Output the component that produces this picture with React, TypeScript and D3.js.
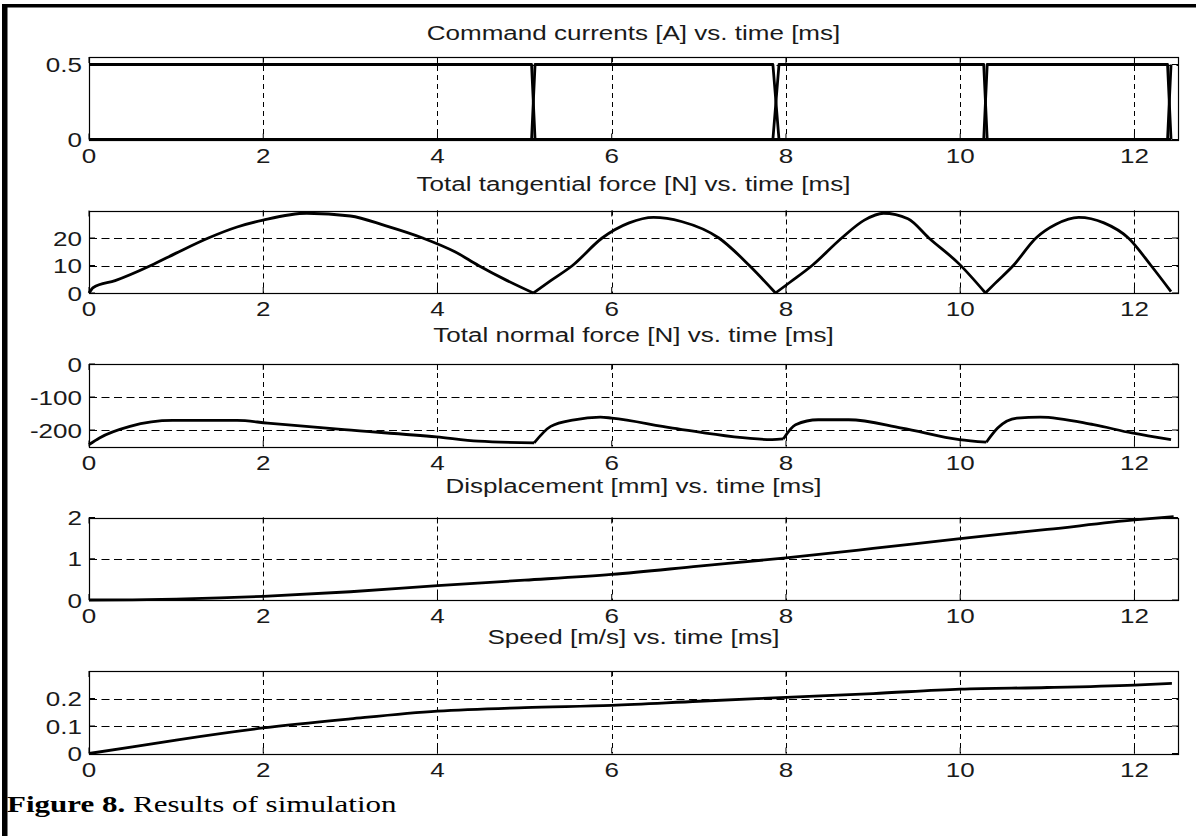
import * as d3 from 'd3'

const X_DOMAIN: [number, number] = [0, 12.5]
const X_TICKS = [0, 2, 4, 6, 8, 10, 12]
const X_TICK_LABELS = ['0', '2', '4', '6', '8', '10', '12']

// command currents of the three phases [A]
const currentTime = [0, 5.08, 5.12, 7.85, 7.92, 10.27, 10.31, 12.38, 12.42]
const currentA = [0.5, 0.5, 0, 0, 0, 0, 0.5, 0.5, 0]
const currentB = [0, 0, 0.5, 0.5, 0, 0, 0, 0, 0.5]
const currentC = [0, 0, 0, 0, 0.5, 0.5, 0, 0, 0]

// total tangential force [N]
const tanTime = [0, 0.05, 0.3, 0.71, 1.0, 1.37, 1.7, 2.0, 2.5, 3.0, 3.4, 3.83, 4.2, 4.47, 4.8, 5.1,
  5.3, 5.55, 5.89, 6.2, 6.48, 6.8, 7.23, 7.58, 7.88,
  8.05, 8.3, 8.64, 8.9, 9.12, 9.4, 9.64, 9.99, 10.29,
  10.4, 10.61, 10.87, 11.1, 11.36, 11.65, 11.93, 12.19, 12.42]
const tanForce = [0, 2, 4.5, 10, 14.5, 20, 24, 26.5, 29, 28, 24.5, 20, 15, 10, 4.5, 0,
  4.5, 10, 20, 25.5, 27.5, 26, 20, 10, 0,
  4, 10, 20, 26.5, 29, 27, 20, 10.5, 0,
  3.5, 10, 20, 25, 27.5, 25.5, 20, 10, 0.5]
const tanBreaks = [5.1, 7.88, 10.29]

// total normal force [N]
const normTime = [0, 0.12, 0.47, 0.96, 1.7, 2.05, 2.93, 3.99, 4.47, 5.11,
  5.3, 5.57, 5.87, 6.0, 6.7, 7.84, 7.97,
  8.11, 8.37, 8.72, 9.33, 9.99, 10.3,
  10.43, 10.65, 10.92, 11.53, 11.97, 12.42]
const normForce = [-244, -224, -189, -171, -171, -179, -199, -221, -234, -239,
  -189, -169, -161, -164, -194, -229, -227,
  -184, -169, -169, -194, -229, -237,
  -194, -164, -161, -184, -209, -229]
const normBreaks = [5.11, 7.97, 10.3]

// displacement [mm]
const dispTime = [0, 0.5, 1, 1.5, 2, 3, 4, 5, 6, 7, 8, 9, 10, 11, 12, 12.45]
const displacement = [0, 0.005, 0.02, 0.05, 0.09, 0.2, 0.35, 0.48, 0.62, 0.82, 1.02, 1.25, 1.49, 1.71, 1.94, 2.02]

// speed [m/s]
const speedTime = [0, 0.5, 1, 2, 3, 4, 5, 6, 7, 8, 9, 10, 11, 12, 12.43]
const speed = [0, 0.024, 0.049, 0.093, 0.126, 0.154, 0.167, 0.175, 0.19, 0.204, 0.218, 0.234, 0.24, 0.249, 0.255]

const TITLES = [
  'Command currents [A] vs. time [ms]',
  'Total tangential force [N] vs. time [ms]',
  'Total normal force [N] vs. time [ms]',
  'Displacement [mm] vs. time [ms]',
  'Speed [m/s] vs. time [ms]',
]
const Y_DOMAINS: [number, number][] = [[0, 0.55], [0, 30], [-250, 0], [0, 2], [0, 0.3]]
const Y_TICKS = [[0, 0.5], [0, 10, 20], [-200, -100, 0], [0, 1, 2], [0, 0.1, 0.2]]
const Y_TICK_LABELS = [['0', '0.5'], ['0', '10', '20'], ['-200', '-100', '0'], ['0', '1', '2'], ['0', '0.1', '0.2']]

const W = 1196
const H = 836
const LEFT = 89
const RIGHT = 1178
const TOP0 = 57
const STEP = 153.5
const PH = 82.5
const FONT = '"Liberation Sans", Arial, Helvetica, sans-serif'
const FS = 21
const SX = 1.24
const INK = '#1a1a1a'

type Pt = [number, number]

function zip(t: number[], v: number[]): Pt[] {
  return t.map((d, i) => [d, v[i]])
}

// split a series into pieces at the given instants (cusps stay sharp)
function splitAt(pts: Pt[], breaks: number[]): Pt[][] {
  const out: Pt[][] = []
  let cur: Pt[] = []
  pts.forEach(p => {
    cur.push(p)
    if (breaks.includes(p[0])) {
      out.push(cur)
      cur = [p]
    }
  })
  if (cur.length > 1) out.push(cur)
  return out
}

function SText({ x, y, anchor = 'start', size = FS, sx = SX, children }: any) {
  return (
    <text
      transform={`translate(${x},${y}) scale(${sx},1)`}
      textAnchor={anchor}
      fontFamily={FONT}
      fontSize={size}
      fill={INK}
    >
      {children}
    </text>
  )
}

export default function App() {
  const x = d3.scaleLinear().domain(X_DOMAIN).range([LEFT, RIGHT])

  const series: { pts: Pt[][]; curve: d3.CurveFactory }[][] = [
    [currentA, currentB, currentC].map(c => ({ pts: [zip(currentTime, c)], curve: d3.curveLinear })),
    [{ pts: splitAt(zip(tanTime, tanForce), tanBreaks), curve: d3.curveMonotoneX }],
    [{ pts: splitAt(zip(normTime, normForce), normBreaks), curve: d3.curveMonotoneX }],
    [{ pts: [zip(dispTime, displacement)], curve: d3.curveMonotoneX }],
    [{ pts: [zip(speedTime, speed)], curve: d3.curveMonotoneX }],
  ]

  return (
    <svg width={W} height={H} style={{ position: 'absolute', left: 0, top: 0, background: '#fff' }}>
      <rect x={0} y={0} width={W} height={H} fill="#fff" />
      {/* frame */}
      <rect x={2} y={4} width={W - 2} height={3.5} fill="#000" />
      <rect x={2} y={4} width={5.5} height={H - 4} fill="#000" />

      {TITLES.map((title, i) => {
        const top = TOP0 + i * STEP
        const bottom = top + PH
        const y = d3.scaleLinear().domain(Y_DOMAINS[i]).range([bottom, top])
        const titleY = 40 + i * 151
        return (
          <g key={title}>
            <SText x={(LEFT + RIGHT) / 2} y={titleY} anchor="middle">{title}</SText>

            {/* grid */}
            {X_TICKS.filter(t => t > X_DOMAIN[0] && t < X_DOMAIN[1]).map(t => (
              <line key={`vg${t}`} x1={Math.round(x(t)) + 0.5} x2={Math.round(x(t)) + 0.5} y1={top} y2={bottom}
                stroke="#000" strokeWidth={1} strokeDasharray="5,4" />
            ))}
            {Y_TICKS[i].filter(t => t > Y_DOMAINS[i][0] && t < Y_DOMAINS[i][1]).map(t => (
              <line key={`hg${t}`} x1={LEFT} x2={RIGHT} y1={Math.round(y(t)) + 0.5} y2={Math.round(y(t)) + 0.5}
                stroke="#000" strokeWidth={1} strokeDasharray="8,4.5" />
            ))}

            {/* box */}
            <rect x={LEFT + 0.5} y={Math.round(top) + 0.5} width={RIGHT - LEFT} height={Math.round(bottom) - Math.round(top)}
              fill="none" stroke="#000" strokeWidth={1.2} />

            {/* ticks */}
            {X_TICKS.map(t => (
              <g key={`xt${t}`}>
                <line x1={x(t)} x2={x(t)} y1={top} y2={top + 6} stroke="#000" />
                <line x1={x(t)} x2={x(t)} y1={bottom} y2={bottom - 6} stroke="#000" />
              </g>
            ))}
            {Y_TICKS[i].map(t => (
              <g key={`yt${t}`}>
                <line x1={LEFT} x2={LEFT + 6} y1={y(t)} y2={y(t)} stroke="#000" />
                <line x1={RIGHT} x2={RIGHT - 6} y1={y(t)} y2={y(t)} stroke="#000" />
              </g>
            ))}

            {/* data */}
            {series[i].map((s, k) =>
              s.pts.map((seg, j) => {
                const line = d3.line<Pt>().x(d => x(d[0])).y(d => y(d[1])).curve(s.curve)
                return (
                  <path key={`s${k}-${j}`} d={line(seg) || ''} fill="none" stroke="#000"
                    strokeWidth={2.8} strokeLinejoin="round" strokeLinecap="butt" />
                )
              })
            )}

            {/* tick labels */}
            {X_TICKS.map((t, k) => (
              <SText key={`xl${t}`} x={x(t)} y={bottom + 23} anchor="middle">{X_TICK_LABELS[k]}</SText>
            ))}
            {Y_TICKS[i].map((t, k) => (
              <SText key={`yl${t}`} x={LEFT - 7} y={y(t) + 7.5} anchor="end">{Y_TICK_LABELS[i][k]}</SText>
            ))}
          </g>
        )
      })}

      {/* caption */}
      <text transform="translate(7,812) scale(1.32,1)" fontFamily='"Liberation Serif", "Times New Roman", serif' fontSize={23.5} fill="#000">
        <tspan fontWeight="bold">Figure 8.</tspan>
        <tspan> Results of simulation</tspan>
      </text>
    </svg>
  )
}
